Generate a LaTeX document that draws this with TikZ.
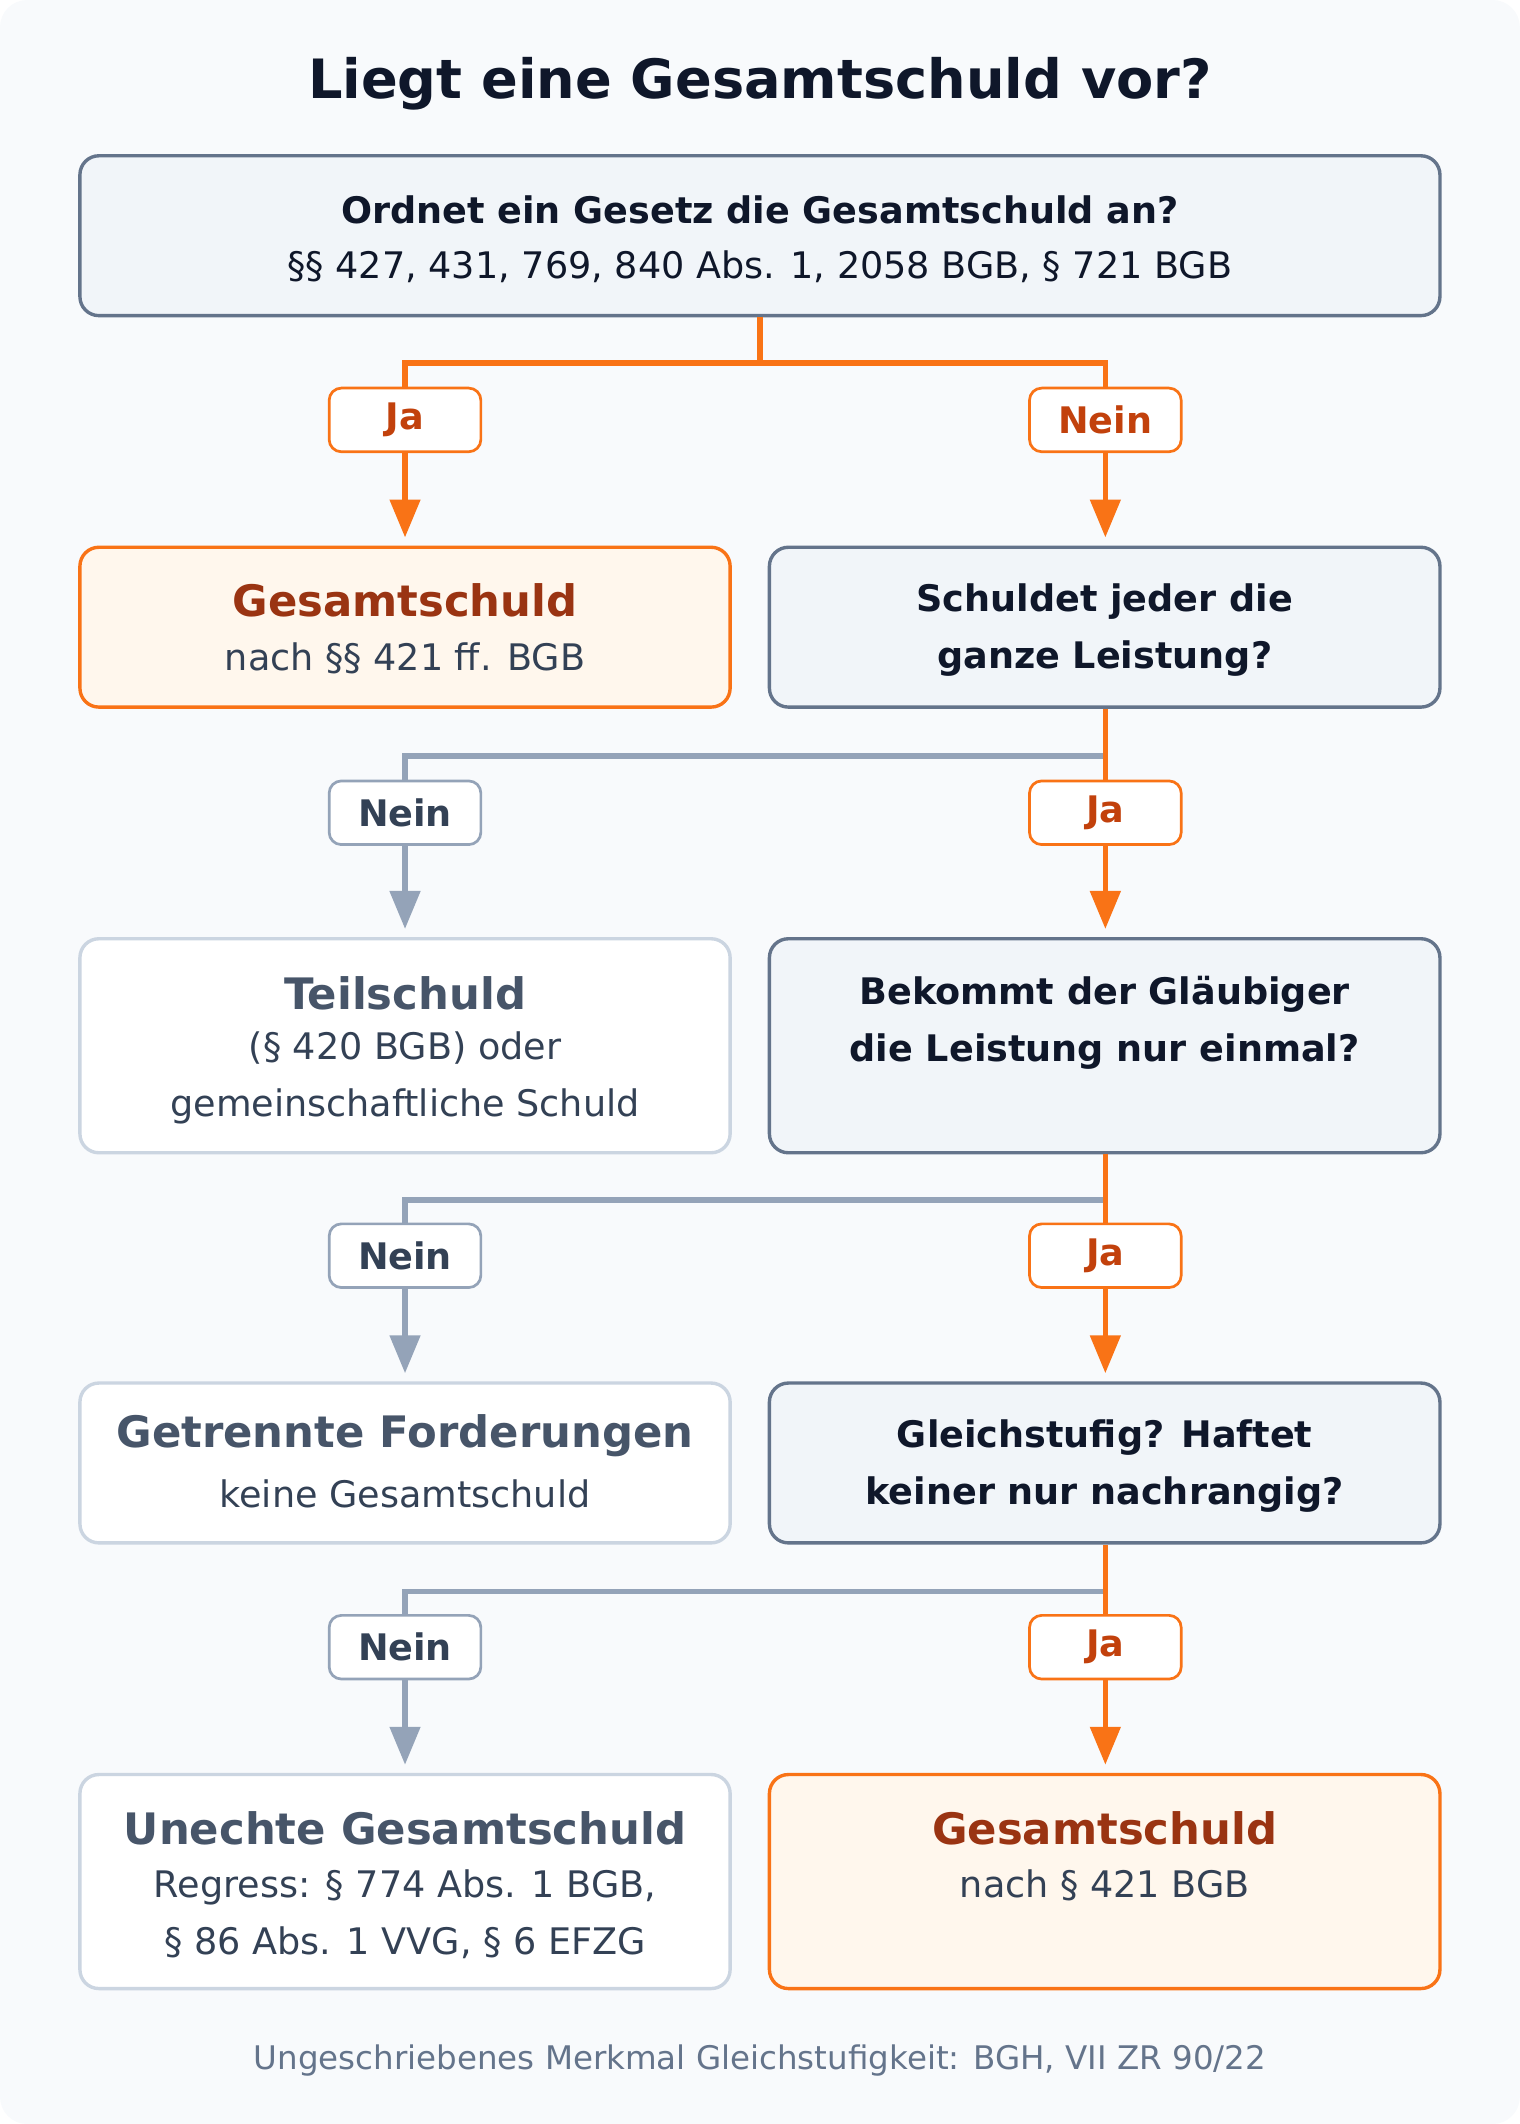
\documentclass[tikz,border=0pt]{standalone}
\usepackage{fontspec}
\setmainfont{DejaVu Sans}
\usetikzlibrary{arrows.meta}
\definecolor{bg}{HTML}{F8FAFC}
\definecolor{qfill}{HTML}{F1F5F9}
\definecolor{qline}{HTML}{64748B}
\definecolor{org}{HTML}{F97316}
\definecolor{ofill}{HTML}{FFF7ED}
\definecolor{odark}{HTML}{9A3412}
\definecolor{olab}{HTML}{C2410C}
\definecolor{gline}{HTML}{94A3B8}
\definecolor{gbox}{HTML}{CBD5E1}
\definecolor{gtext}{HTML}{475569}
\definecolor{dtext}{HTML}{0F172A}
\definecolor{btext}{HTML}{334155}
\tikzset{
 box/.style={rectangle,rounded corners=14pt,line width=2.5pt,inner sep=0pt},
 q/.style={box,draw=qline,fill=qfill},
 res/.style={box,draw=org,fill=ofill},
 neg/.style={box,draw=gbox,fill=white},
 lab/.style={rectangle,rounded corners=9pt,line width=2pt,fill=white,minimum width=112pt,minimum height=47pt,font=\fontsize{27}{30}\selectfont\bfseries},
 olab/.style={lab,draw=org,text=olab},
 glab/.style={lab,draw=gline,text=btext},
 oc/.style={draw=org,line width=4pt},
 gc/.style={draw=gline,line width=4pt},
 oa/.style={oc,-{Triangle[length=28pt,width=22pt]},shorten >=6pt},
 ga/.style={gc,-{Triangle[length=28pt,width=22pt]},shorten >=6pt},
 qt/.style={font=\fontsize{27}{42}\selectfont\bfseries,text=dtext,align=center},
 tt/.style={font=\fontsize{27}{42}\selectfont,text=btext,align=center},
 ht/.style={font=\fontsize{32}{40}\selectfont\bfseries,align=center},
}
\begin{document}
\begin{tikzpicture}[x=1pt,y=-1pt]
\useasboundingbox (0,0) rectangle (1122,1568);
\fill[bg,rounded corners=20pt] (0,0) rectangle (1122,1568);
\node[font=\fontsize{40}{48}\selectfont\bfseries,text=dtext] (title) at (561,62) {Liegt eine Gesamtschuld vor?};
% boxes
\node[q,minimum width=1004pt,minimum height=118pt] (b1) at (561,174) {};
\node[qt] (b1a) at (561,155) {Ordnet ein Gesetz die Gesamtschuld an?};
\node[tt,text=dtext] (b1b) at (561,197) {§§ 427, 431, 769, 840 Abs. 1, 2058 BGB, § 721 BGB};
\node[res,minimum width=480pt,minimum height=118pt] (r2l) at (299,463) {};
\node[ht,text=odark] at (299,443) {Gesamtschuld};
\node[tt] at (299,486) {nach §§ 421 ff. BGB};
\node[q,minimum width=495pt,minimum height=118pt] (r2r) at (815.5,463) {};
\node[qt] at (815.5,465) {Schuldet jeder die\\ganze Leistung?};
\node[neg,minimum width=480pt,minimum height=158pt] (r3l) at (299,772) {};
\node[ht,text=gtext] at (299,733) {Teilschuld};
\node[tt] at (299,796) {(§ 420 BGB) oder\\gemeinschaftliche Schuld};
\node[q,minimum width=495pt,minimum height=158pt] (r3r) at (815.5,772) {};
\node[qt] at (815.5,755) {Bekommt der Gläubiger\\die Leistung nur einmal?};
\node[neg,minimum width=480pt,minimum height=118pt] (r4l) at (299,1080) {};
\node[ht,text=gtext] at (299,1060) {Getrennte Forderungen};
\node[tt] at (299,1103) {keine Gesamtschuld};
\node[q,minimum width=495pt,minimum height=118pt] (r4r) at (815.5,1080) {};
\node[qt] at (815.5,1082) {Gleichstufig? Haftet\\keiner nur nachrangig?};
\node[neg,minimum width=480pt,minimum height=158pt] (r5l) at (299,1389) {};
\node[ht,text=gtext] at (299,1350) {Unechte Gesamtschuld};
\node[tt] at (299,1413) {Regress: § 774 Abs. 1 BGB,\\§ 86 Abs. 1 VVG, § 6 EFZG};
\node[res,minimum width=495pt,minimum height=158pt] (r5r) at (815.5,1389) {};
\node[ht,text=odark] at (815.5,1350) {Gesamtschuld};
\node[tt] at (815.5,1392) {nach § 421 BGB};
\node[font=\fontsize{24}{28}\selectfont,text=qline] (foot) at (561,1521) {Ungeschriebenes Merkmal Gleichstufigkeit: BGH, VII ZR 90/22};
% labels
\node[olab] (l1a) at (299,310) {Ja};
\node[olab] (l1b) at (816,310) {Nein};
\node[glab] (l2a) at (299,600) {Nein};
\node[olab] (l2b) at (816,600) {Ja};
\node[glab] (l3a) at (299,927) {Nein};
\node[olab] (l3b) at (816,927) {Ja};
\node[glab] (l4a) at (299,1216) {Nein};
\node[olab] (l4b) at (816,1216) {Ja};
% connectors
\draw[oc] (b1.south) -- (561,268) -| (l1a.north);
\draw[oc] (561,268) -| (l1b.north);
\draw[oa] (l1a.south) -- (r2l.north -| l1a);
\draw[oa] (l1b.south) -- (r2r.north -| l1b);
\draw[gc] (816,558) -| (l2a.north);
\draw[oc] (r2r.south -| l2b) -- (l2b.north);
\draw[ga] (l2a.south) -- (r3l.north -| l2a);
\draw[oa] (l2b.south) -- (r3r.north -| l2b);
\draw[gc] (816,886) -| (l3a.north);
\draw[oc] (r3r.south -| l3b) -- (l3b.north);
\draw[ga] (l3a.south) -- (r4l.north -| l3a);
\draw[oa] (l3b.south) -- (r4r.north -| l3b);
\draw[gc] (816,1175) -| (l4a.north);
\draw[oc] (r4r.south -| l4b) -- (l4b.north);
\draw[ga] (l4a.south) -- (r5l.north -| l4a);
\draw[oa] (l4b.south) -- (r5r.north -| l4b);
\end{tikzpicture}
\end{document}
